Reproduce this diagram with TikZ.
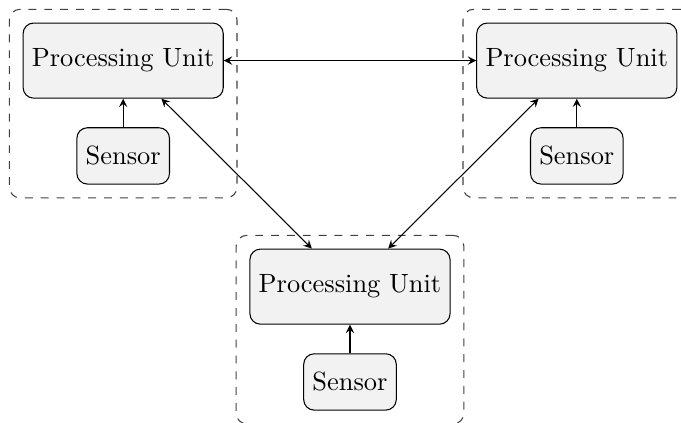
\documentclass[tikz,border=0pt]{standalone}
\usepackage{tikz}
\usetikzlibrary{arrows,shapes,positioning,fit}
\tikzset{
unit_n/.style = {rectangle, rounded corners, draw=black, fill=gray!10, align=center, minimum height=1cm},% processing unit
sens_n/.style = {rectangle, rounded corners, draw=black, fill=gray!10, align=center, minimum height=0.75cm},% sensor
grp_n/.style  = {rectangle, rounded corners, draw=black!75, dashed, inner sep=5pt}% dashed group
}
\begin{document}
\begin{tikzpicture}[>=stealth, node distance=0.38cm]
	\useasboundingbox (-132.6pt,-51.6pt) rectangle (125.4pt,108.6pt);
	\node [unit_n] (pu_c) at (0,0) {Processing Unit};
	\node [unit_n] (pu_l) at (-3.02,3.01) {Processing Unit};
	\node [unit_n] (pu_r) at (3.02,3.01) {Processing Unit};
	\node [sens_n, below=of pu_c] (s_c) {Sensor};
	\node [sens_n, below=of pu_l] (s_l) {Sensor};
	\node [sens_n, below=of pu_r] (s_r) {Sensor};
	\node [grp_n, fit=(pu_c)(s_c)] (g_c) {};
	\node [grp_n, fit=(pu_l)(s_l)] (g_l) {};
	\node [grp_n, fit=(pu_r)(s_r)] (g_r) {};
	\draw[->] (s_c) -- (pu_c);
	\draw[->] (s_l) -- (pu_l);
	\draw[->] (s_r) -- (pu_r);
	\draw[<->] (pu_l) -- (pu_r);
	\draw[<->] (pu_l) -- (pu_c);
	\draw[<->] (pu_r) -- (pu_c);
\end{tikzpicture}
\end{document}
